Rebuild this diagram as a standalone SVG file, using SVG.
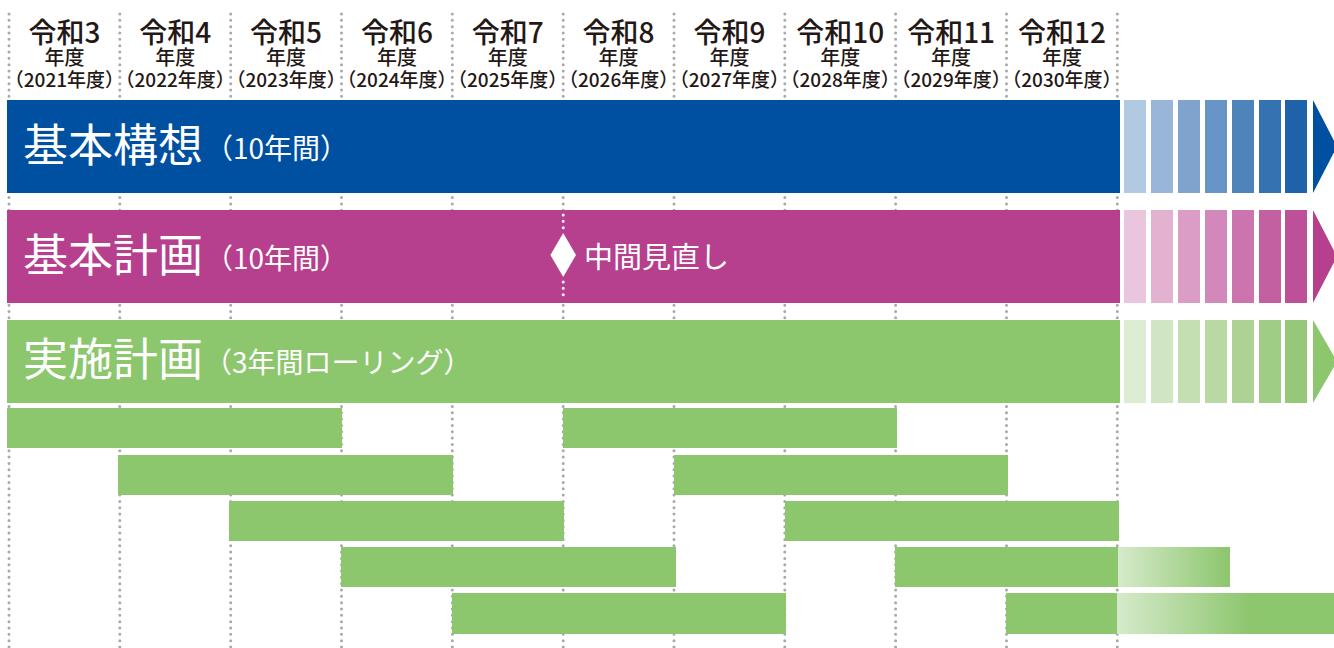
<svg xmlns="http://www.w3.org/2000/svg" width="1334" height="648" viewBox="0 0 1334 648">
<defs>
<style>
.grid{stroke:#a9a9a9;stroke-width:3;stroke-linecap:round;stroke-dasharray:0 6.33;fill:none}
.wdot{stroke:#ffffff;stroke-width:3;stroke-linecap:round;stroke-dasharray:0 6.33;fill:none}
.hd{font-family:"Noto Sans CJK JP","Noto Sans",sans-serif;fill:#231815;text-anchor:middle}
.y1{font-size:28px;font-weight:500}
.y2{font-size:20px;font-weight:500}
.y3{font-size:19px;font-weight:500}
.tt{font-family:"Noto Sans CJK JP","Noto Sans",sans-serif;fill:#ffffff}
.big{font-size:45px}
.sm{font-size:28px}
.g{fill:#8cc66d}
</style>
<linearGradient id="fade4" x1="0" y1="0" x2="1" y2="0">
<stop offset="0" stop-color="#d6eacb"/>
<stop offset="1" stop-color="#8cc66d"/>
</linearGradient>
<linearGradient id="fade5" x1="0" y1="0" x2="1" y2="0">
<stop offset="0" stop-color="#d6eacb"/>
<stop offset="0.62" stop-color="#8cc66d"/>
<stop offset="1" stop-color="#8cc66d"/>
</linearGradient>
</defs>
<rect width="1334" height="648" fill="#ffffff"/>

<g id="grid">
<path class="grid" d="M9 14V648M119.8 14V648M230.7 14V648M341.5 14V648M452.3 14V648M563.2 14V648M674 14V648M784.8 14V648M895.6 14V648M1006.5 14V648M1117.3 14V648"/>
</g>

<g id="headers">
<text class="hd y1" x="64.4" y="43">令和3</text><text class="hd y2" x="64.4" y="65">年度</text><text class="hd y3" x="64.4" y="87">（2021年度）</text>
<text class="hd y1" x="175.2" y="43">令和4</text><text class="hd y2" x="175.2" y="65">年度</text><text class="hd y3" x="175.2" y="87">（2022年度）</text>
<text class="hd y1" x="286.1" y="43">令和5</text><text class="hd y2" x="286.1" y="65">年度</text><text class="hd y3" x="286.1" y="87">（2023年度）</text>
<text class="hd y1" x="396.9" y="43">令和6</text><text class="hd y2" x="396.9" y="65">年度</text><text class="hd y3" x="396.9" y="87">（2024年度）</text>
<text class="hd y1" x="507.7" y="43">令和7</text><text class="hd y2" x="507.7" y="65">年度</text><text class="hd y3" x="507.7" y="87">（2025年度）</text>
<text class="hd y1" x="618.6" y="43">令和8</text><text class="hd y2" x="618.6" y="65">年度</text><text class="hd y3" x="618.6" y="87">（2026年度）</text>
<text class="hd y1" x="729.4" y="43">令和9</text><text class="hd y2" x="729.4" y="65">年度</text><text class="hd y3" x="729.4" y="87">（2027年度）</text>
<text class="hd y1" x="840.2" y="43">令和10</text><text class="hd y2" x="840.2" y="65">年度</text><text class="hd y3" x="840.2" y="87">（2028年度）</text>
<text class="hd y1" x="951.1" y="43">令和11</text><text class="hd y2" x="951.1" y="65">年度</text><text class="hd y3" x="951.1" y="87">（2029年度）</text>
<text class="hd y1" x="1061.9" y="43">令和12</text><text class="hd y2" x="1061.9" y="65">年度</text><text class="hd y3" x="1061.9" y="87">（2030年度）</text>
</g>

<g id="kihon-koso">
<rect x="7" y="100" width="1113" height="93" fill="#0050a2"/>
<rect x="1124" y="100" width="22" height="93" fill="#b2c9e2"/>
<rect x="1151" y="100" width="22" height="93" fill="#99b6d8"/>
<rect x="1178" y="100" width="22" height="93" fill="#7fa3cd"/>
<rect x="1205" y="100" width="22" height="93" fill="#6795c5"/>
<rect x="1232" y="100" width="22" height="93" fill="#4f84bb"/>
<rect x="1259" y="100" width="22" height="93" fill="#3572b1"/>
<rect x="1285" y="100" width="22" height="93" fill="#1f62a9"/>
<polygon points="1313,100 1337,146.5 1313,193" fill="#0050a2"/>
<text class="tt big" x="23" y="162">基本構想</text>
<text class="tt sm" x="205" y="159">（10年間）</text>
</g>

<g id="kihon-keikaku">
<rect x="7" y="210" width="1113" height="93" fill="#b63f8e"/>
<rect x="1124" y="210" width="22" height="93" fill="#e9c6dd"/>
<rect x="1151" y="210" width="22" height="93" fill="#e3b2d0"/>
<rect x="1178" y="210" width="22" height="93" fill="#db9dc5"/>
<rect x="1205" y="210" width="22" height="93" fill="#d288bb"/>
<rect x="1232" y="210" width="22" height="93" fill="#cb74ae"/>
<rect x="1259" y="210" width="22" height="93" fill="#c260a2"/>
<rect x="1285" y="210" width="22" height="93" fill="#bc5199"/>
<polygon points="1313,210 1337,256.5 1313,303" fill="#b63f8e"/>
<text class="tt big" x="23" y="272">基本計画</text>
<text class="tt sm" x="205" y="269">（10年間）</text>
<path class="wdot" d="M563.2 215V230M563.2 282V298"/>
<polygon points="563.2,233 576,255 563.2,277 550.4,255" fill="#ffffff"/>
<text class="tt" x="584" y="268" font-size="29">中間見直し</text>
</g>

<g id="jisshi-keikaku">
<rect x="7" y="320" width="1113" height="83" fill="#8cc66d"/>
<rect x="1124" y="320" width="22" height="83" fill="#dcedd3"/>
<rect x="1151" y="320" width="22" height="83" fill="#d0e6c2"/>
<rect x="1178" y="320" width="22" height="83" fill="#c4dfb2"/>
<rect x="1205" y="320" width="22" height="83" fill="#b9d9a4"/>
<rect x="1232" y="320" width="22" height="83" fill="#acd394"/>
<rect x="1259" y="320" width="22" height="83" fill="#a0cd85"/>
<rect x="1285" y="320" width="22" height="83" fill="#97c87a"/>
<polygon points="1313,320 1337,361.5 1313,403" fill="#8cc66d"/>
<text class="tt big" x="23" y="376">実施計画</text>
<text class="tt sm" x="204" y="373">（3年間ローリング）</text>
</g>

<g id="rolling">
<rect class="g" x="7" y="408" width="335" height="40"/>
<rect class="g" x="563" y="408" width="334" height="40"/>
<rect class="g" x="118" y="455" width="335" height="40"/>
<rect class="g" x="674" y="455" width="334" height="40"/>
<rect class="g" x="229" y="501" width="335" height="40"/>
<rect class="g" x="785" y="501" width="334" height="40"/>
<rect class="g" x="341" y="547" width="335" height="40"/>
<rect class="g" x="895" y="547" width="223" height="40"/>
<rect x="1118" y="547" width="112" height="40" fill="url(#fade4)"/>
<rect class="g" x="452" y="593" width="334" height="41"/>
<rect class="g" x="1006" y="593" width="111" height="41"/>
<rect x="1117" y="593" width="217" height="41" fill="url(#fade5)"/>
</g>
</svg>
